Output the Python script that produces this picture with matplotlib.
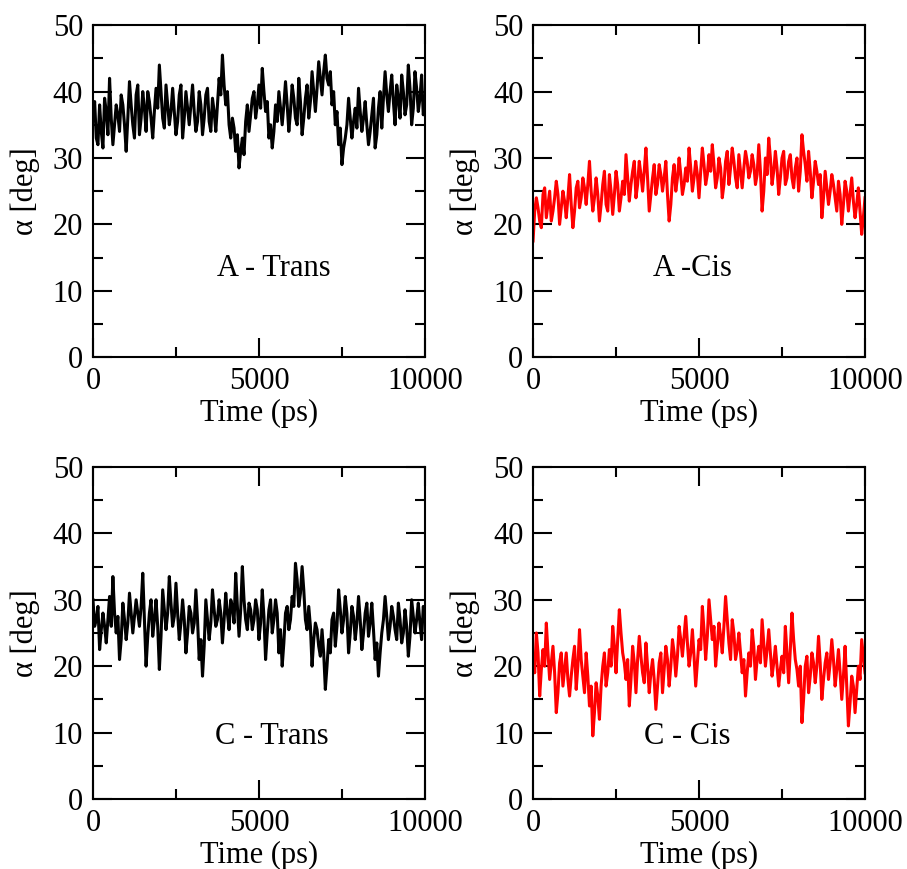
import numpy as np
import matplotlib
matplotlib.use('Agg')
import matplotlib.pyplot as plt
from matplotlib.ticker import MultipleLocator

plt.rcParams['font.family'] = ['Liberation Serif', 'DejaVu Serif']

# values: one list at every 100 ps, and one list of the
# wiggles in between (at 50, 150, ... ps)
time_ps = np.arange(0, 10001, 50)

a_trans = [36, 33, 38, 31.5, 37, 42, 32, 38, 34, 38,
           31, 41.5, 35, 39.5, 33.5, 40, 34, 38.5, 33, 40.5,
           44, 36, 41, 35, 40.5, 33.5, 39.5, 33, 40, 35,
           41, 34, 40, 33.5, 39.5, 35.5, 39, 34, 42, 45.5,
           38, 35, 36, 31, 28.5, 33, 35.5, 34, 39, 36,
           41, 43.5, 37, 33, 31.5, 38, 40, 35, 41.5, 34,
           41, 36, 42, 33.5, 39, 36, 43, 37, 44.5, 39.5,
           45.5, 41, 38, 35, 32, 29, 33, 39, 33, 37.5,
           40.5, 34, 38.5, 32, 36.5, 31.5, 37.5, 34.5, 43, 37,
           42.5, 35, 39, 42.5, 36.5, 44, 35, 43, 37, 42.5,
           38]
a_trans_mid = [38.5, 32, 34, 39, 33.5, 36, 35, 36.5, 39.5, 35,
               36, 38, 33, 41, 36, 37.5, 40, 36, 37, 37.5,
               40, 34.5, 38, 37, 37, 35.5, 41, 36, 37.5, 38,
               37, 35.5, 38, 36, 40.5, 34, 37, 38, 39.5, 41,
               40, 33, 34.5, 33.5, 31, 30.5, 38, 36.5, 40, 38,
               37.5, 40, 38.5, 35, 34, 35.5, 37.5, 38, 38, 37,
               39, 35, 38.5, 36, 41, 38.5, 40, 40.5, 42, 43,
               42, 43, 40, 37, 34.5, 31.5, 35, 36, 35.5, 34.5,
               37, 36, 35, 34, 39, 33.5, 40, 39, 39.5, 40,
               38.5, 41, 36, 40, 38, 40.5, 37.5, 40.5, 39, 36.5]

a_cis = [17.5, 24, 20.5, 24.5, 21, 25, 22, 26.5, 20, 25,
         21, 27.5, 19.5, 25.5, 22.5, 27, 23, 29.5, 22, 27,
         20.5, 26, 23, 27.5, 21.5, 28, 22, 26.5, 30.5, 23.5,
         28, 24, 29.5, 25, 31.5, 22, 27, 24.5, 29, 25,
         29.5, 20.5, 27, 25, 30, 24.5, 28.5, 31.5, 25, 29.5,
         24, 31.5, 26, 30.5, 32, 25.5, 30, 24, 29.5, 26,
         31.5, 27, 30.5, 25.5, 31, 27, 30.5, 26, 32, 22,
         30, 33, 26, 31, 24.5, 30, 26, 29.5, 27, 28.5,
         25, 33.5, 29, 31, 24, 29.5, 26, 21, 28, 23,
         27.5, 24, 26.5, 20, 26.5, 22, 27, 21, 25.5, 18.5,
         24]
a_cis_mid = [22, 22.5, 19.5, 25.5, 23, 20.5, 24, 24.5, 22.5, 23.5,
             24, 23, 22, 26.5, 24, 25.5, 26, 25, 24, 24.5,
             23, 28, 22, 25, 24.5, 26, 24, 24.5, 27, 26,
             29.5, 26, 27.5, 28, 27, 24.5, 29, 26, 27.5, 27,
             24.5, 23, 29, 27, 27.5, 26, 26.5, 28.5, 27, 27.5,
             28, 29, 27.5, 28, 29, 27, 28.5, 26, 31, 28.5,
             29.5, 25.5, 28, 28.5, 29.5, 28, 29, 27.5, 28, 25,
             27.5, 30, 28, 28.5, 27, 31, 27, 30.5, 25.5, 30,
             28, 31, 26.5, 28, 26.5, 28, 27.5, 24, 25.5, 25,
             26, 22, 24.5, 23, 25, 24.5, 23.5, 23, 22, 21]

c_trans = [30, 27, 22.5, 28, 23.5, 30.5, 33.5, 25, 21, 29.5,
           24, 31, 25, 30, 26, 34, 20, 28, 24.5, 30,
           19.5, 31.5, 25.5, 33.5, 26, 32.5, 24, 30, 22, 29,
           25, 31.5, 21, 18.5, 30, 24, 31.5, 26, 30, 23.5,
           31, 25.5, 29, 34, 24.5, 35, 27, 29.5, 25.5, 30,
           24, 31.5, 21, 28.5, 25, 30, 22, 20, 28, 25.5,
           30.5, 35.5, 29, 35, 27, 29, 20, 26.5, 23, 25.5,
           16.5, 24, 27, 23, 31.5, 25, 30.5, 22, 29, 24,
           30.5, 22.5, 28, 24.5, 29.5, 21, 18.5, 25, 30.5, 24,
           29, 25.5, 29.5, 23.5, 28.5, 21.5, 30, 25, 29.5, 24,
           28]
c_trans_mid = [26, 29, 25.5, 26, 27, 26, 28, 27.5, 24, 27,
               26.5, 28, 27.5, 28, 29, 27, 24.5, 30, 27, 26,
               24.5, 28.5, 28, 29.5, 27.5, 28, 26.5, 27, 25, 28,
               26.5, 27, 24, 23, 27, 26.5, 28.5, 27, 28, 27,
               28, 30, 26.5, 29, 28.5, 30, 25.5, 28.5, 27, 28.5,
               26.5, 27.5, 25, 30, 27, 28, 25.5, 23.5, 29, 27,
               29, 33, 31, 31.5, 25.5, 26, 24, 25.5, 21.5, 22,
               20, 22, 28, 26, 28.5, 27, 28, 25, 27.5, 26.5,
               27, 25, 29.5, 26.5, 25.5, 23.5, 22, 27, 27.5, 26,
               27.5, 24, 27, 25, 26, 24.5, 27.5, 27, 26.5, 29]

c_cis = [21, 25, 15.5, 22.5, 26.5, 18, 23, 13, 20.5, 17,
         22, 15.5, 21, 16.5, 25.5, 18.5, 22, 14, 9.5, 17.5,
         12, 20, 17, 22.5, 26, 19, 28.5, 22, 18, 14,
         23, 16, 24.5, 19, 23.5, 16, 21, 13.5, 20.5, 16,
         23, 17, 24, 18.5, 26, 21.5, 27.5, 20, 25.5, 17,
         24, 29, 21, 30, 24, 20, 26.5, 22, 30.5, 23.5,
         27, 21, 25, 19, 15.5, 22, 25.5, 18, 23, 27,
         20, 25.5, 18.5, 23, 17, 21.5, 26, 17.5, 28, 21,
         17, 11.5, 20, 16, 22, 17.5, 24.5, 15, 20.5, 18,
         24, 17, 22.5, 15, 23, 11, 18.5, 13, 20, 24,
         19]
c_cis_mid = [19, 22, 19.5, 20, 22, 20.5, 19, 16, 22, 19.5,
             18, 18.5, 23, 20, 21, 16, 18.5, 17, 13, 15.5,
             17, 22, 19, 20, 23, 24, 25, 20.5, 21, 18,
             20.5, 21, 21.5, 17.5, 20, 19, 18, 17, 22, 19.5,
             21, 20, 22, 21.5, 24, 24.5, 23.5, 22, 21.5, 20.5,
             22.5, 25.5, 24.5, 27, 26, 23, 24.5, 26, 27, 21,
             25, 22.5, 22, 21, 19, 20, 23, 21, 20.5, 23.5,
             22.5, 22, 20.5, 20, 19.5, 19, 22, 22.5, 24, 19.5,
             20, 15, 21.5, 18.5, 20.5, 20, 20.5, 18, 22, 20.5,
             21, 19.5, 19, 18.5, 17, 14.5, 17, 16.5, 18, 21.5]


def weave(on_grid, between):
    # put the in-between readings between the 100 ps readings
    out = np.empty(len(on_grid) + len(between))
    out[0::2] = on_grid
    out[1::2] = between
    return out


panels = [
    (weave(a_trans, a_trans_mid), 'black', 'A - Trans',
     [0.1025, 0.589, 0.366, 0.382], 5450, 13.4),
    (weave(a_cis, a_cis_mid), 'red', 'A -Cis',
     [0.5877, 0.589, 0.366, 0.382], 4800, 13.4),
    (weave(c_trans, c_trans_mid), 'black', 'C - Trans',
     [0.1025, 0.0806, 0.366, 0.382], 5400, 9.4),
    (weave(c_cis, c_cis_mid), 'red', 'C - Cis',
     [0.5877, 0.0806, 0.366, 0.382], 4650, 9.4),
]

fig = plt.figure(figsize=(9.07, 8.69), dpi=100)

for values, color, label, rect, label_x, label_y in panels:
    ax = fig.add_axes(rect)
    ax.plot(time_ps, values, color=color, linewidth=2.2)
    ax.set_xlim(0, 10000)
    ax.set_ylim(0, 50)
    ax.xaxis.set_major_locator(MultipleLocator(5000))
    ax.xaxis.set_minor_locator(MultipleLocator(2500))
    ax.yaxis.set_major_locator(MultipleLocator(10))
    ax.yaxis.set_minor_locator(MultipleLocator(5))
    ax.tick_params(which='both', direction='in', top=True, right=True,
                   width=1.5, labelsize=22, pad=7)
    ax.tick_params(which='major', length=14)
    ax.tick_params(which='minor', length=7)
    for sp in ax.spines.values():
        sp.set_linewidth(1.5)
    ax.set_xlabel('Time (ps)', fontsize=22, labelpad=2)
    ax.set_ylabel('α [deg]', fontsize=22, labelpad=9)
    ax.text(label_x, label_y, label, fontsize=22, ha='center', va='center')

plt.savefig('out.png', dpi=100)
